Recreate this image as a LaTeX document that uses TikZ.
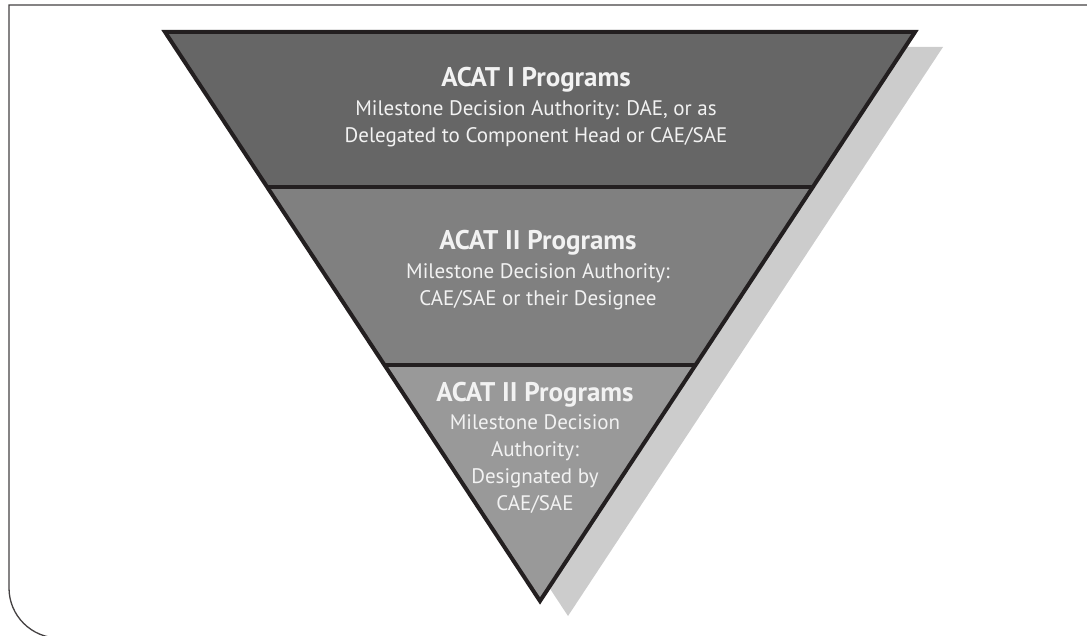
\documentclass[tikz,border=0pt]{standalone}
\usepackage{fontspec}
\setmainfont{PT Sans}
\usetikzlibrary{positioning,calc}

\definecolor{bandone}{HTML}{666666}
\definecolor{bandtwo}{HTML}{808080}
\definecolor{bandthree}{HTML}{999999}
\definecolor{shadowgray}{HTML}{CCCCCC}
\definecolor{edgeblack}{HTML}{231F20}
\definecolor{textwhite}{HTML}{F2F2F2}

\tikzset{
  bandtitle/.style={font=\fontsize{27}{30}\selectfont\bfseries, text=textwhite,
                    inner sep=0pt, anchor=base},
  bandtext/.style={font=\fontsize{21}{27}\selectfont, text=textwhite,
                   align=center, inner sep=0pt},
  divider/.style={draw=edgeblack, line width=4.5pt},
}

\begin{document}
\begin{tikzpicture}[x=1pt,y=-1pt]
\useasboundingbox (0,0) rectangle (1087,636);

% frame
\draw[edgeblack!85, line width=1.3pt] (1087,5) -- (9,5) -- (9,560)
      [rounded corners=50pt] -- (9,638) -- (140,638);

% triangle corners
\coordinate (tl)   at (165,32);
\coordinate (tr)   at (915,32);
\coordinate (apex) at (540,601);

\coordinate (l1) at ($(tl)!0.2724!(apex)$);
\coordinate (r1) at ($(tr)!0.2724!(apex)$);
\coordinate (l2) at ($(tl)!0.5852!(apex)$);
\coordinate (r2) at ($(tr)!0.5852!(apex)$);

% shadow
\fill[shadowgray] ([shift={(28,15)}]tl) -- ([shift={(28,15)}]tr)
      -- ([shift={(28,15)}]apex) -- cycle;

% bands
\fill[bandone]   (tl) -- (tr) -- (r1) -- (l1) -- cycle;
\fill[bandtwo]   (l1) -- (r1) -- (r2) -- (l2) -- cycle;
\fill[bandthree] (l2) -- (r2) -- (apex) -- cycle;

\draw[divider] (l1) -- (r1);
\draw[divider] (l2) -- (r2);
\draw[edgeblack, line width=4pt] (tl) -- (tr) -- (apex) -- cycle;

% labels
\node[bandtitle] (t1) at (536,87) {ACAT I Programs};
\node[bandtext, below=13pt of t1.base] (b1)
     {Milestone Decision Authority: DAE, or as\\Delegated to Component Head or CAE/SAE};

\node[bandtitle] (t2) at (538,250) {ACAT II Programs};
\node[bandtext, below=13pt of t2.base] (b2)
     {Milestone Decision Authority:\\CAE/SAE or their Designee};

\node[bandtitle] (t3) at (535,401.5) {ACAT II Programs};
\node[bandtext, below=13pt of t3.base] (b3)
     {Milestone Decision\\Authority:\\Designated by\\CAE/SAE};
\end{tikzpicture}
\end{document}
